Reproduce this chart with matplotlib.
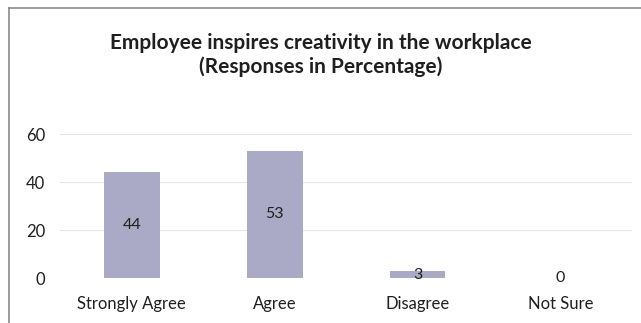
import matplotlib.pyplot as plt
from matplotlib.lines import Line2D

plt.rcParams['font.family'] = ['Lato', 'DejaVu Sans']

categories = ['Strongly Agree', 'Agree', 'Disagree', 'Not Sure']
responses = [44, 53, 3, 0]
y_ticks = [0, 20, 40, 60]

bar_color = '#aaaac6'
text_color = '#1f1f1f'

fig = plt.figure(figsize=(6.41, 3.23), dpi=100)
ax = fig.add_axes([0.094, 0.139, 0.892, 0.446])

bars = ax.bar(range(len(categories)), responses, width=0.39, color=bar_color, zorder=2)
ax.bar_label(bars, labels=[str(v) for v in responses], label_type='center',
             fontsize=11.5, color=text_color)

ax.set_xlim(-0.5, len(categories) - 0.5)
ax.set_ylim(0, 60)
ax.set_yticks(y_ticks)
ax.set_xticks(range(len(categories)))
ax.set_xticklabels(categories)
ax.tick_params(axis='both', length=0, labelsize=12, colors=text_color)
ax.tick_params(axis='y', pad=11)
ax.tick_params(axis='x', pad=13)
ax.grid(axis='y', color='#e6e6e6', linewidth=0.8, zorder=0)
for side in ax.spines.values():
    side.set_visible(False)

fig.text(0.5, 0.83, 'Employee inspires creativity in the workplace\n(Responses in Percentage)',
         ha='center', va='center', fontsize=15, fontweight='bold', color=text_color,
         linespacing=1.25)

# outer chart frame: only the left and top edges fall inside the picture
fig.add_artist(Line2D([0.014, 0.014], [0.0, 0.975], color='#8a8a8a', linewidth=1.2,
                      transform=fig.transFigure))
fig.add_artist(Line2D([0.014, 1.0], [0.975, 0.975], color='#8a8a8a', linewidth=1.2,
                      transform=fig.transFigure))

fig.savefig('out.png', dpi=100)
